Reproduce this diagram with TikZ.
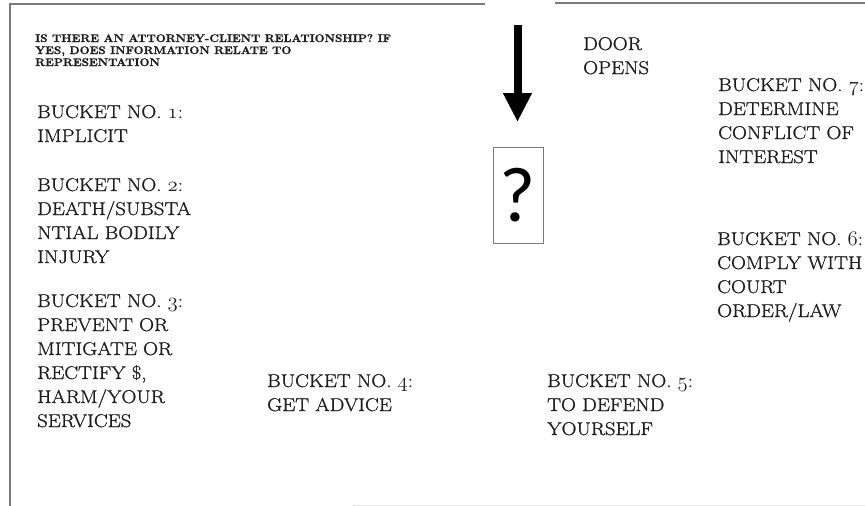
\documentclass[tikz,border=0pt]{standalone}
\usepackage{fontspec}
\newfontfamily\qfont{Carlito}
\newfontfamily\bodyfam{Latin Modern Roman}[FakeBold=1.1,FakeStretch=1.12]
\newfontfamily\hdrfam{Latin Modern Roman}[FakeBold=1.2]
\usetikzlibrary{arrows.meta}
\definecolor{txt}{HTML}{1E1E1E}
\definecolor{frm}{HTML}{7A7A7A}
\definecolor{faint}{HTML}{E8E8E8}
\newcommand\bodyfont{\bodyfam\fontsize{18.5}{24}\selectfont}
\newcommand\hdrfont{\hdrfam\fontsize{11}{12}\selectfont\bfseries}
\newcommand\osn[1]{{\fontencoding{OML}\fontfamily{cmm}\fontseries{m}\fontshape{it}\fontsize{22}{24}\selectfont #1}}
\newcommand\ml[1]{\begin{tabular}[t]{@{}l@{}}#1\end{tabular}}
\tikzset{
  bucket/.style={anchor=base west, inner sep=0pt, text=txt, font=\bodyfont},
  framel/.style={draw=frm, line width=1.2pt},
}
\begin{document}
\begin{tikzpicture}[x=1pt,y=-1pt]
\useasboundingbox (0,0) rectangle (865,506);
% frame
\draw[framel] (10,506) -- (10,4) -- (485,4);
\draw[framel] (555,3) -- (865,3);
\draw[faint, line width=1pt] (353,505.5) -- (865,505.5);
% header
\node[bucket] (hdr) at (35,42) {\scalebox{1.05}[1]{\hdrfont\ml{IS THERE AN ATTORNEY-CLIENT RELATIONSHIP? IF\\YES, DOES INFORMATION RELATE TO\\REPRESENTATION}}};
% buckets
\node[bucket] (b1) at (37,118) {\ml{BUCKET NO. \osn{1}:\\IMPLICIT}};
\node[bucket] (b2) at (37,191) {\ml{BUCKET NO. \osn{2}:\\DEATH/SUBSTA\\NTIAL BODILY\\INJURY}};
\node[bucket] (b3) at (37,307) {\ml{BUCKET NO. \osn{3}:\\PREVENT OR\\MITIGATE OR\\RECTIFY \$,\\HARM/YOUR\\SERVICES}};
\node[bucket] (b4) at (267,387) {\ml{BUCKET NO. \osn{4}:\\GET ADVICE}};
\node[bucket] (b5) at (547,387) {\ml{BUCKET NO. \osn{5}:\\TO DEFEND\\YOURSELF}};
\node[bucket] (b6) at (717,245) {\ml{BUCKET NO. \osn{6}:\\COMPLY WITH\\COURT\\ORDER/LAW}};
\node[bucket] (b7) at (718,91) {\ml{BUCKET NO. \osn{7}:\\DETERMINE\\CONFLICT OF\\INTEREST}};
\node[bucket] (door) at (583,50) {\ml{DOOR\\OPENS}};
% question box
\node[draw=frm, line width=1pt, minimum width=50pt, minimum height=96pt, inner sep=0pt, text=black, font=\qfont\fontsize{78}{78}\selectfont] (q) at (518,195) {?};
% arrow
\coordinate (a0) at (517.5,25);
\coordinate (a1) at (517.5,122);
\draw[line width=8pt, -{Triangle[width=27pt,length=29pt]}] (a0) -- (a1);
\end{tikzpicture}
\end{document}
